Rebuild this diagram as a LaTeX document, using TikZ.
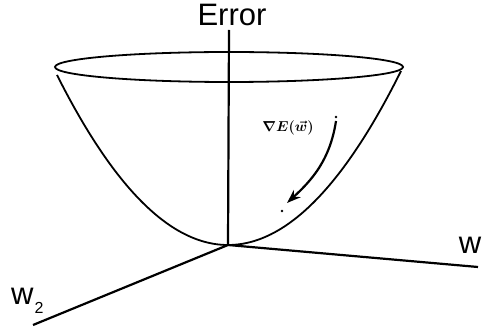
\documentclass[tikz,border=0pt]{standalone}
\usepackage{fontspec}
\setmainfont{Liberation Sans}
\usetikzlibrary{arrows.meta}
\tikzset{
  axis/.style={line width=2.2pt, black},
  rim/.style={line width=1.8pt, black},
  big/.style={font=\fontsize{31}{31}\selectfont, inner sep=0pt},
  grad/.style={line width=2.2pt, -{Stealth[length=14pt,width=10pt]}},
  gradlab/.style={font=\fontsize{14.5}{14.5}\selectfont\boldmath, inner sep=0pt}
}
\begin{document}
\begin{tikzpicture}[x=1pt,y=-1pt]
\useasboundingbox (0,0) rectangle (485,331);
% labels
\node[big] (err) at (232,15) {Error};
\node[big] (w) at (470,245) {w};
\node[big, anchor=base west] (w2) at (11,305) {w\kern1pt\raisebox{-9pt}{\fontsize{16}{16}\selectfont 2}};
% axes
\coordinate (O) at (228,245);
\coordinate (ztop) at (229,30);
\coordinate (wend) at (478,267);
\coordinate (w2end) at (33,325);
% bowl
\draw[rim] (229,67) ellipse [x radius=174, y radius=15];
\draw[rim] plot[domain=-171:173, samples=120] ({228+\x},{245-(\x/172)*\x});
\draw[axis] (O) -- (ztop);
\draw[axis] (O) -- (wend);
\draw[axis] (O) -- (w2end);
% gradient
\coordinate (gs) at (336,121);
\coordinate (ge) at (287,203);
\draw[grad] (gs) .. controls (330,160) and (312,180) .. (ge);
\fill (336,117) circle (1.3);
\fill (282,211) circle (1.3);
\node[gradlab] (glab) at (288,128) {$\nabla E(\vec{w})$};
\end{tikzpicture}
\end{document}
